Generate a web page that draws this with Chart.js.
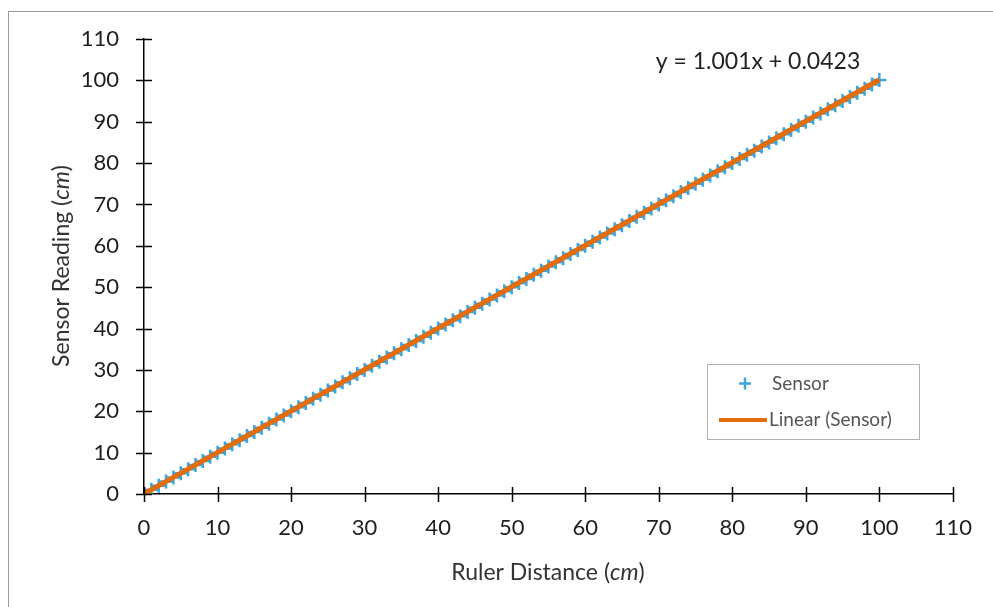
<!DOCTYPE html>
<html lang="en">

<head>
  <meta charset="UTF-8">
  <script src="https://cdn.jsdelivr.net/npm/chart.js"></script>
  <title>Sensor vs Ruler</title>
  <style>
    html, body { margin: 0; padding: 0; background: #fff; overflow: hidden; }
    .caixa { position: relative; width: 993px; height: 607px; }
  </style>
</head>

<body>
  <div class="caixa">
    <canvas id="grafico" width="993" height="607"></canvas>
  </div>

<script>
  // dados (cm)
  const rulerDistance = [0, 1, 2, 3, 4, 5, 6, 7, 8, 9, 10, 11, 12, 13, 14, 15, 16, 17, 18, 19, 20,
    21, 22, 23, 24, 25, 26, 27, 28, 29, 30, 31, 32, 33, 34, 35, 36, 37, 38, 39, 40,
    41, 42, 43, 44, 45, 46, 47, 48, 49, 50, 51, 52, 53, 54, 55, 56, 57, 58, 59, 60,
    61, 62, 63, 64, 65, 66, 67, 68, 69, 70, 71, 72, 73, 74, 75, 76, 77, 78, 79, 80,
    81, 82, 83, 84, 85, 86, 87, 88, 89, 90, 91, 92, 93, 94, 95, 96, 97, 98, 99, 100];
  const sensorReading = [0, 1, 2, 3, 4, 5, 6, 7, 8, 9, 10, 11, 12, 13, 14, 15, 16, 17, 18, 19, 20,
    21, 22, 23, 24, 25, 26, 27, 28, 29, 30, 31, 32, 33, 34, 35, 36, 37, 38, 39, 40,
    41, 42, 43, 44, 45, 46, 47, 48, 49, 50, 51, 52, 53, 54, 55, 56, 57, 58, 59, 60,
    61, 62, 63, 64, 65, 66, 67, 68, 69, 70, 71, 72, 73, 74, 75, 76, 77, 78, 79, 80,
    81, 82, 83, 84, 85, 86, 87, 88, 89, 90, 91, 92, 93, 94, 95, 96, 97, 98, 99, 100.1];

  // linha de tendencia (y = 1.001x + 0.0423)
  const slope = 1.001;
  const intercept = 0.0423;
  const trendX = [0, 100];

  const axisTicks = [0, 10, 20, 30, 40, 50, 60, 70, 80, 90, 100, 110];

  const FONTE = 'Lato, "Open Sans", sans-serif';
  const TEXTO = '#1e1e1e';
  const AZUL = '#3ea6dc';
  const LARANJA = '#e46c0a';

  let pontos = rulerDistance.map(function (x, i) { return { x: x, y: sensorReading[i] }; });
  let tendencia = trendX.map(function (x) { return { x: x, y: slope * x + intercept }; });

  // titulo com "cm" em italico
  function textoMisto(ctx, partes, x, y) {
    let total = 0;
    partes.forEach(function (p) { ctx.font = p[1]; total += ctx.measureText(p[0]).width; });
    let cx = x - total / 2;
    partes.forEach(function (p) {
      ctx.font = p[1];
      ctx.fillText(p[0], cx, y);
      cx += ctx.measureText(p[0]).width;
    });
  }

  const extras = {
    id: 'extras',
    beforeDraw: function (chart) {
      const ctx = chart.ctx;
      ctx.save();
      ctx.strokeStyle = '#9a9a9a';
      ctx.lineWidth = 1;
      ctx.strokeRect(8.5, 11.5, 1100, 700);
      ctx.restore();
    },
    afterDraw: function (chart) {
      const ctx = chart.ctx;
      const xs = chart.scales.x, ys = chart.scales.y;
      ctx.save();

      // marcas que cruzam os eixos
      ctx.strokeStyle = '#000';
      ctx.lineWidth = 1.5;
      xs.ticks.forEach(function (t) {
        const px = Math.round(xs.getPixelForValue(t.value)) + 0.5;
        ctx.beginPath();
        ctx.moveTo(px, ys.bottom - 7);
        ctx.lineTo(px, ys.bottom + 8);
        ctx.stroke();
      });
      ys.ticks.forEach(function (t) {
        const py = Math.round(ys.getPixelForValue(t.value)) + 0.5;
        ctx.beginPath();
        ctx.moveTo(xs.left - 8, py);
        ctx.lineTo(xs.left + 8, py);
        ctx.stroke();
      });

      // titulos dos eixos
      ctx.fillStyle = '#333';
      ctx.textBaseline = 'middle';
      const normal = '23px ' + FONTE;
      const italico = 'italic 23px ' + FONTE;
      textoMisto(ctx, [['Ruler Distance (', normal], ['cm', italico], [')', normal]], 548, 573);
      ctx.save();
      ctx.translate(62, 266);
      ctx.rotate(-Math.PI / 2);
      textoMisto(ctx, [['Sensor Reading (', normal], ['cm', italico], [')', normal]], 0, 0);
      ctx.restore();

      // equacao
      ctx.font = '23px ' + FONTE;
      ctx.fillStyle = '#222';
      ctx.textAlign = 'center';
      ctx.fillText('y = ' + slope.toFixed(3) + 'x + ' + intercept, 758, 62);

      // legenda
      ctx.strokeStyle = '#b0b0b0';
      ctx.lineWidth = 1;
      ctx.strokeRect(707.5, 364.5, 212, 75);
      ctx.strokeStyle = AZUL;
      ctx.lineWidth = 2.5;
      ctx.beginPath();
      ctx.moveTo(739, 383.5); ctx.lineTo(751, 383.5);
      ctx.moveTo(745, 377.5); ctx.lineTo(745, 389.5);
      ctx.stroke();
      ctx.strokeStyle = LARANJA;
      ctx.lineWidth = 4;
      ctx.beginPath();
      ctx.moveTo(719, 420); ctx.lineTo(767, 420);
      ctx.stroke();
      ctx.font = '19px ' + FONTE;
      ctx.fillStyle = '#555';
      ctx.textAlign = 'left';
      ctx.fillText('Sensor', 772, 384);
      ctx.fillText('Linear (Sensor)', 769, 420);

      ctx.restore();
    }
  };

  const config = {
    type: 'scatter',
    data: {
      datasets: [{
        label: 'Linear (Sensor)',
        type: 'line',
        data: tendencia,
        borderColor: LARANJA,
        borderWidth: 5,
        pointRadius: 0,
        fill: false,
        order: 0
      }, {
        label: 'Sensor',
        data: pontos,
        pointStyle: 'cross',
        pointRadius: 7,
        pointBorderWidth: 2.5,
        borderColor: AZUL,
        backgroundColor: AZUL,
        order: 1
      }]
    },
    options: {
      responsive: false,
      animation: false,
      layout: { padding: { left: 0, top: 39, right: 35, bottom: 0 } },
      plugins: { legend: { display: false }, tooltip: { enabled: false } },
      scales: {
        x: {
          type: 'linear',
          min: 0, max: 110,
          afterBuildTicks: function (s) { s.ticks = axisTicks.map(function (v) { return { value: v }; }); },
          afterFit: function (s) { s.height = 113; },
          grid: { display: false, drawTicks: false },
          border: { display: true, color: '#000', width: 1.5 },
          ticks: { padding: 21, color: TEXTO, font: { family: FONTE, size: 22 } }
        },
        y: {
          type: 'linear',
          min: 0, max: 110,
          afterBuildTicks: function (s) { s.ticks = axisTicks.map(function (v) { return { value: v }; }); },
          afterFit: function (s) { s.width = 144; },
          grid: { display: false, drawTicks: false },
          border: { display: true, color: '#000', width: 1.5 },
          ticks: { padding: 25, color: TEXTO, font: { family: FONTE, size: 22 } }
        }
      }
    },
    plugins: [extras]
  };

  let myChart = new Chart(document.getElementById('grafico'), config);
</script>
</body>

</html>
